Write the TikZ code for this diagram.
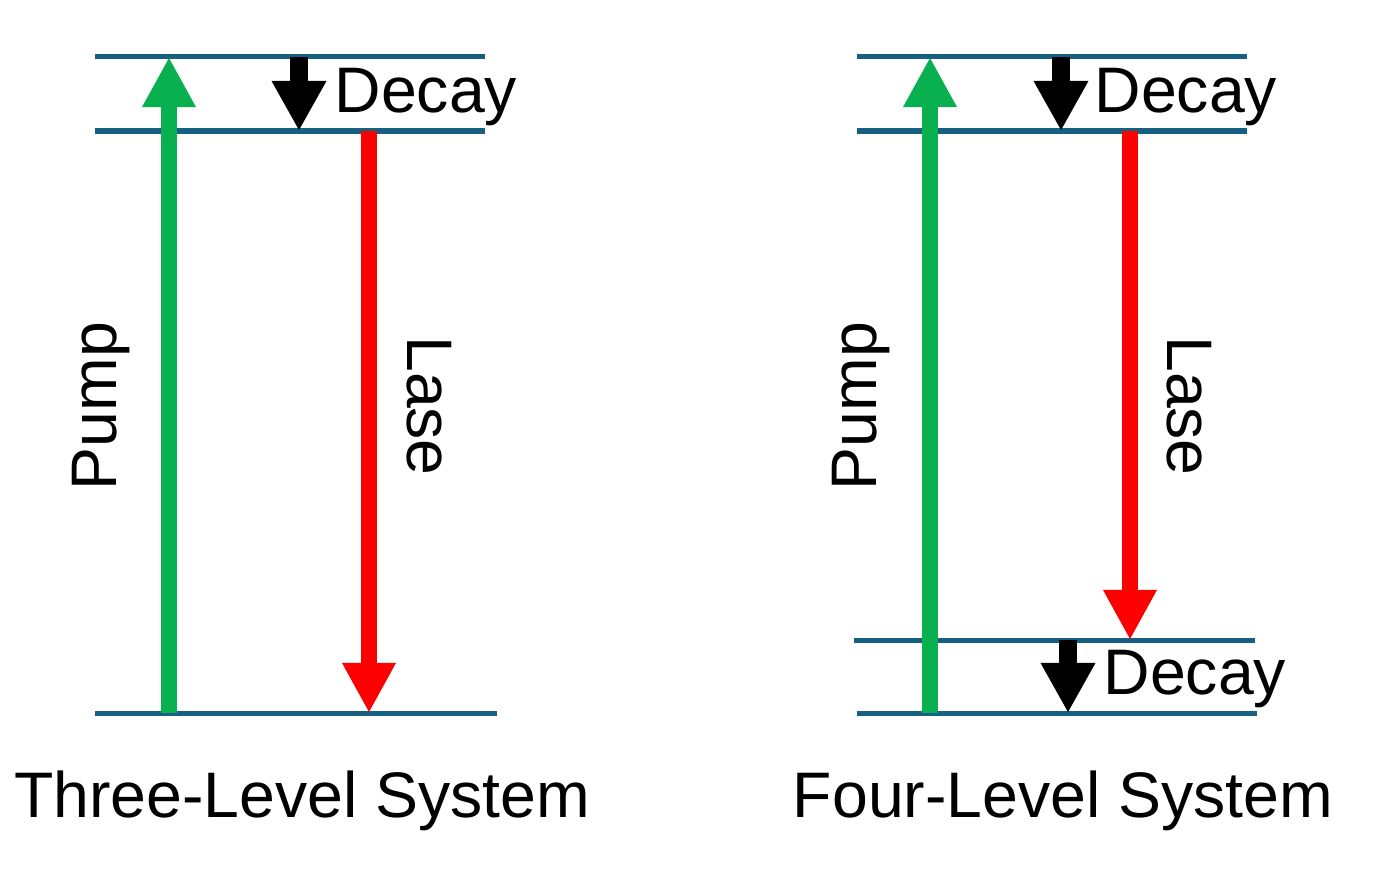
\documentclass[tikz,border=0pt]{standalone}
\usepackage{fontspec}
\setmainfont{Liberation Sans}
\usetikzlibrary{arrows.meta}
\definecolor{levelblue}{RGB}{22,96,130}
\definecolor{pumpgreen}{RGB}{8,176,80}
\definecolor{lasered}{RGB}{255,0,0}
\tikzset{
  level/.style={draw=levelblue, line width=0.05cm},
  pumparrow/.style={draw=pumpgreen, line width=0.16cm, -{Triangle[width=0.5cm, length=0.5cm, fill=pumpgreen]}},
  lasearrow/.style={draw=lasered, line width=0.16cm, -{Triangle[width=0.5cm, length=0.5cm, fill=lasered]}},
  decayarrow/.style={draw=black, line width=0.18cm, -{Triangle[width=0.51cm, length=0.5cm, fill=black]}},
  txt/.style={inner sep=0pt, font=\fontsize{18.3}{20}\selectfont}
}

\begin{document}
\begin{tikzpicture}[x=0.01cm, y=-0.01cm]
  \useasboundingbox (0,0) rectangle (1382,894);

  % three-level system
  \coordinate (T3a) at (95,57);  \coordinate (T3b) at (485,57);
  \coordinate (T2a) at (95,131); \coordinate (T2b) at (485,131);
  \coordinate (T1a) at (95,713); \coordinate (T1b) at (497,713);
  \draw[level] (T3a) -- (T3b);
  \draw[level] (T2a) -- (T2b);
  \draw[level] (T1a) -- (T1b);

  \coordinate (TpumpS) at (169,713); \coordinate (TpumpE) at (169,57);
  \coordinate (TdecS) at (299,57);   \coordinate (TdecE) at (299,131);
  \coordinate (TlaseS) at (369,131); \coordinate (TlaseE) at (369,713);
  \draw[pumparrow] (TpumpS) -- (TpumpE);
  \draw[decayarrow] (TdecS) -- (TdecE);
  \draw[lasearrow] (TlaseS) -- (TlaseE);

  \node[txt, anchor=base west] (TdecL) at (334,113) {Decay};
  \node[txt, anchor=base, rotate=90] (TpumpL) at (116,406) {Pump};
  \node[txt, anchor=base, rotate=-90] (TlaseL) at (407,406) {Lase};
  \node[txt, anchor=base] (Ttitle) at (302,817) {Three-Level System};

  % four-level system
  \coordinate (F4a) at (857,57);  \coordinate (F4b) at (1247,57);
  \coordinate (F3a) at (857,131); \coordinate (F3b) at (1247,131);
  \coordinate (F2a) at (854,640); \coordinate (F2b) at (1255,640);
  \coordinate (F1a) at (857,713); \coordinate (F1b) at (1257,713);
  \draw[level] (F4a) -- (F4b);
  \draw[level] (F3a) -- (F3b);
  \draw[level] (F2a) -- (F2b);
  \draw[level] (F1a) -- (F1b);

  \coordinate (FpumpS) at (930,713);  \coordinate (FpumpE) at (930,57);
  \coordinate (FdecS) at (1061,57);   \coordinate (FdecE) at (1061,131);
  \coordinate (FlaseS) at (1130,131); \coordinate (FlaseE) at (1130,640);
  \coordinate (FlowS) at (1068,640);  \coordinate (FlowE) at (1068,713);
  \draw[pumparrow] (FpumpS) -- (FpumpE);
  \draw[decayarrow] (FdecS) -- (FdecE);
  \draw[lasearrow] (FlaseS) -- (FlaseE);
  \draw[decayarrow] (FlowS) -- (FlowE);

  \node[txt, anchor=base west] (FdecL) at (1094,113) {Decay};
  \node[txt, anchor=base west] (FlowL) at (1103,694) {Decay};
  \node[txt, anchor=base, rotate=90] (FpumpL) at (876,406) {Pump};
  \node[txt, anchor=base, rotate=-90] (FlaseL) at (1167,406) {Lase};
  \node[txt, anchor=base] (Ftitle) at (1063,817) {Four-Level System};
\end{tikzpicture}
\end{document}
